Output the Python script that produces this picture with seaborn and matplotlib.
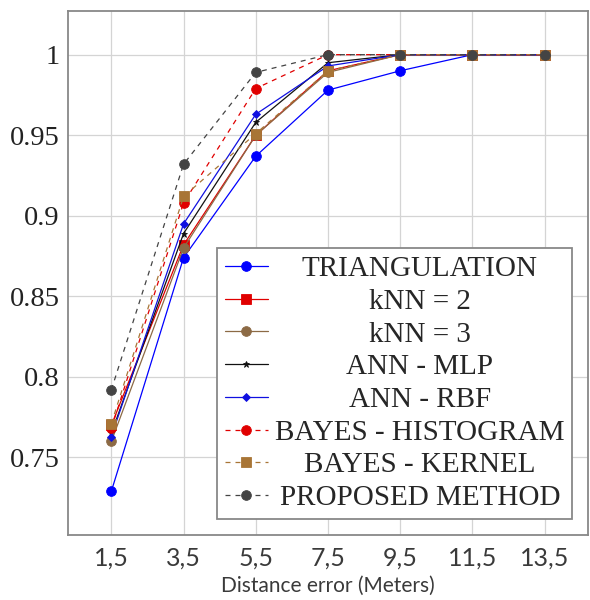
import matplotlib
matplotlib.use("Agg")
import matplotlib.pyplot as plt
import seaborn as sns
import pandas as pd

x_vals = [1.5, 3.5, 5.5, 7.5, 9.5, 11.5, 13.5]
x_tick_labels = ["1,5", "3,5", "5,5", "7,5", "9,5", "11,5", "13,5"]
y_ticks = [0.75, 0.8, 0.85, 0.9, 0.95, 1.0]
y_tick_labels = ["0.75", "0.8", "0.85", "0.9", "0.95", "1"]

triangulation = [0.729, 0.874, 0.937, 0.978, 0.990, 1.0, 1.0]
knn2 = [0.770, 0.882, 0.950, 0.990, 1.0, 1.0, 1.0]
knn3 = [0.760, 0.880, 0.950, 0.989, 1.0, 1.0, 1.0]
ann_mlp = [0.765, 0.889, 0.958, 0.995, 1.0, 1.0, 1.0]
ann_rbf = [0.763, 0.895, 0.963, 0.993, 1.0, 1.0, 1.0]
bayes_hist = [0.768, 0.908, 0.979, 1.0, 1.0, 1.0, 1.0]
bayes_kernel = [0.771, 0.912, 0.951, 0.990, 1.0, 1.0, 1.0]
proposed = [0.792, 0.932, 0.989, 1.0, 1.0, 1.0, 1.0]

series_names = ["TRIANGULATION", "kNN = 2", "kNN = 3", "ANN - MLP", "ANN - RBF",
                "BAYES - HISTOGRAM", "BAYES - KERNEL", "PROPOSED METHOD"]
series_values = [triangulation, knn2, knn3, ann_mlp, ann_rbf, bayes_hist, bayes_kernel, proposed]

styles = {
    "TRIANGULATION": dict(color="#0000ff", marker="o", linestyle="-", markersize=7),
    "kNN = 2": dict(color="#e00000", marker="s", linestyle="-", markersize=7),
    "kNN = 3": dict(color="#8c6a45", marker="o", linestyle="-", markersize=7),
    "ANN - MLP": dict(color="#111111", marker="*", linestyle="-", markersize=5),
    "ANN - RBF": dict(color="#1010e0", marker="D", linestyle="-", markersize=4.5),
    "BAYES - HISTOGRAM": dict(color="#e00000", marker="o", linestyle=(0, (4, 4)), markersize=7),
    "BAYES - KERNEL": dict(color="#a87536", marker="s", linestyle=(0, (4, 4)), markersize=7),
    "PROPOSED METHOD": dict(color="#444444", marker="o", linestyle=(0, (4, 4)), markersize=7),
}

sns.set_style("white")
plt.rcParams["font.family"] = ["Liberation Serif", "DejaVu Serif"]

fig = plt.figure(figsize=(5.9, 6.0), dpi=100)
ax = fig.add_axes([68 / 590, 1 - 535 / 600, 520 / 590, 524 / 600])

for name, vals in zip(series_names, series_values):
    df = pd.DataFrame({"x": x_vals, "y": vals})
    st = styles[name]
    sns.lineplot(data=df, x="x", y="y", ax=ax, color=st["color"], marker=st["marker"],
                 linestyle=st["linestyle"], markersize=st["markersize"],
                 markeredgewidth=0.6, markeredgecolor=st["color"], linewidth=0.9,
                 label=name, sort=False, errorbar=None, zorder=3)

ax.set_xlim(0.3, 14.7)
ax.set_ylim(0.7019, 1.0271)
ax.set_xticks(x_vals)
ax.set_xticklabels(x_tick_labels, family=["Lato", "DejaVu Sans"], fontsize=18, color="#3a3a3a")
ax.set_yticks(y_ticks)
ax.set_yticklabels(y_tick_labels, fontsize=20.5, color="#222222")
ax.set_xlabel("Distance error (Meters)", family=["Lato", "DejaVu Sans"], fontsize=15,
              color="#3a3a3a", labelpad=5)
ax.set_ylabel("")
ax.grid(True, color="#d4d4d4", linewidth=0.9)
ax.tick_params(axis="both", direction="in", length=4, color="#999999", width=0.8)
ax.tick_params(axis="y", pad=6)
ax.tick_params(axis="x", pad=8)
for sp in ax.spines.values():
    sp.set_color("#888888")
    sp.set_linewidth(1.3)

leg = ax.legend(loc="upper left", bbox_to_anchor=(217 / 590, 1 - 248 / 600),
                bbox_transform=fig.transFigure, borderaxespad=0, fontsize=21,
                fancybox=False, framealpha=1, edgecolor="#888888", labelspacing=0.215,
                handlelength=1.47, handletextpad=0.25, borderpad=0.27)
leg.get_frame().set_linewidth(1.3)
leg.set_zorder(5)

fig.canvas.draw()
renderer = fig.canvas.get_renderer()
widths = [t.get_window_extent(renderer).width for t in leg.get_texts()]
maxw = max(widths)
for t, w in zip(leg.get_texts(), widths):
    t.set_position(((maxw - w) / 2, 0))

fig.savefig("out.png", dpi=100, facecolor="white")
